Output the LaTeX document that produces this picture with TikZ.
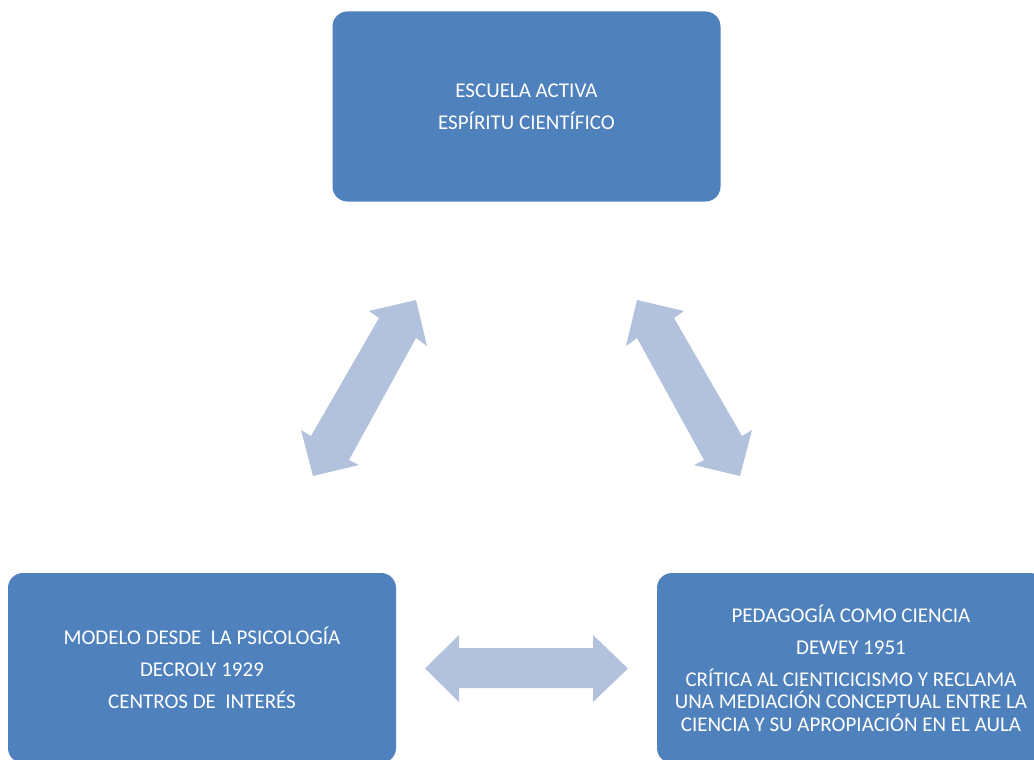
\documentclass[tikz,border=0pt]{standalone}
\usepackage{fontspec}
\setmainfont{Carlito}
\definecolor{boxblue}{RGB}{79,129,189}
\definecolor{arrowblue}{RGB}{179,194,220}
\tikzset{
  box/.style={fill=boxblue, draw=none, rounded corners=15pt, minimum width=388pt, minimum height=190pt,
    text=white, align=center, inner sep=0pt, font=\fontsize{21}{22.5}\selectfont},
  blockarrow/.style={fill=arrowblue, draw=none}
}
\begin{document}
\begin{tikzpicture}[x=1pt,y=-1pt]
\clip (0,0) rectangle (1034,760);
\fill[white] (0,0) rectangle (1034,760);
\node[box] (top) at (526.5,106.5) {ESCUELA ACTIVA\\[9.5pt]ESPÍRITU CIENTÍFICO};
\node[box] (left) at (202,668) {MODELO DESDE\ \ LA PSICOLOGÍA\\[9.5pt]DECROLY 1929\\[9.5pt]CENTROS DE\ \ INTERÉS};
\node[box] (right) at (851,668) {PEDAGOGÍA COMO CIENCIA\\[9.5pt]DEWEY 1951\\[9.5pt]CRÍTICA AL CIENTICICISMO Y RECLAMA\\UNA MEDIACIÓN CONCEPTUAL ENTRE LA\\CIENCIA Y SU APROPIACIÓN EN EL AULA};
% left diagonal arrow
\fill[blockarrow] (416,300) -- (427,346) -- (416,338) -- (349,460) -- (359,465) -- (313,476)
  -- (301,430) -- (311,436) -- (379,318) -- (369,311) -- cycle;
% right diagonal arrow
\fill[blockarrow] (637,300) -- (626,346) -- (637,338) -- (704,460) -- (694,465) -- (740,476)
  -- (752,430) -- (742,436) -- (674,318) -- (684,311) -- cycle;
% horizontal arrow
\fill[blockarrow] (425,668.5) -- (459,635) -- (459,648) -- (593,648) -- (593,635) -- (628,668.5)
  -- (593,702) -- (593,688) -- (459,688) -- (459,702) -- cycle;
\end{tikzpicture}
\end{document}
